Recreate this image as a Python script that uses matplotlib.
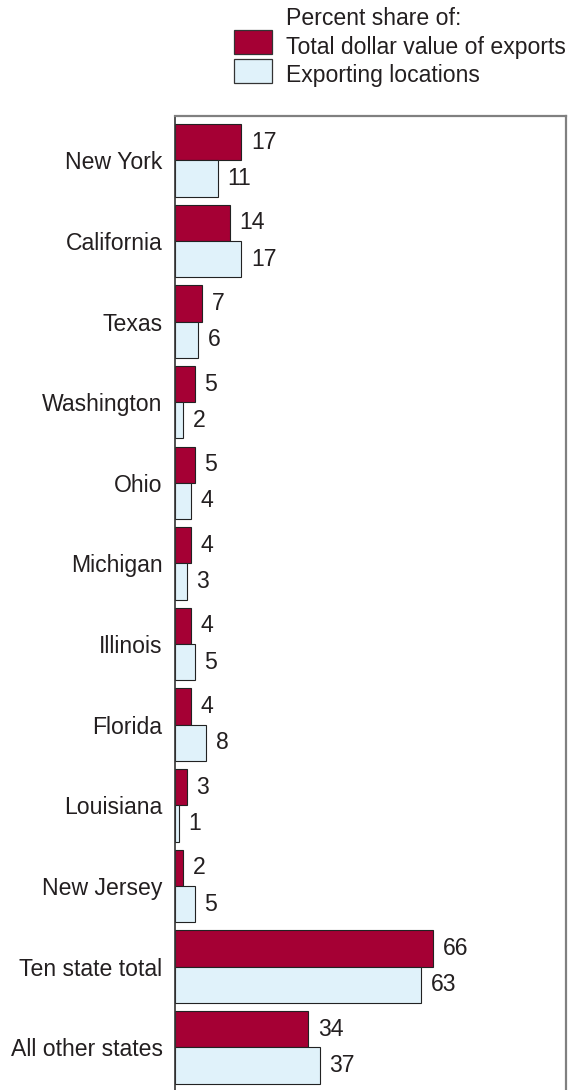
#!/usr/bin/env python3
"""
Horizontal grouped bars: share of export value vs exporting locations, top ten states.
"""
import matplotlib
matplotlib.use('Agg')
import matplotlib.pyplot as plt
from matplotlib.patches import Rectangle

states = ['New York', 'California', 'Texas', 'Washington', 'Ohio', 'Michigan',
          'Illinois', 'Florida', 'Louisiana', 'New Jersey', 'Ten state total',
          'All other states']
export_value = [17, 14, 7, 5, 5, 4, 4, 4, 3, 2, 66, 34]
export_locations = [11, 17, 6, 2, 4, 3, 5, 8, 1, 5, 63, 37]

RED = '#a50034'
BLUE = '#e0f2fa'
TEXT = '#231f20'
FS = 16.6

plt.rcParams['font.family'] = ['Liberation Sans', 'DejaVu Sans']
plt.rcParams['font.size'] = FS

W, H = 573, 1090
fig = plt.figure(figsize=(W / 100, H / 100), dpi=100)
ax = fig.add_axes([175 / W, 0, (566 - 175) / W, (H - 116) / H])

ypos = list(range(len(states)))
bh = 0.45
red = ax.barh([y - bh / 2 for y in ypos], export_value, height=bh,
              color=RED, edgecolor='#222222', linewidth=0.8)
blue = ax.barh([y + bh / 2 for y in ypos], export_locations, height=bh,
               color=BLUE, edgecolor='#222222', linewidth=0.8)
ax.bar_label(red, padding=7, color=TEXT, fontsize=FS)
ax.bar_label(blue, padding=7, color=TEXT, fontsize=FS)

ax.set_xlim(0, 100)
ax.set_ylim(11.53, -0.549)
ax.set_yticks(ypos)
ax.set_yticklabels(states, color=TEXT)
ax.tick_params(axis='y', length=0, pad=9)
ax.set_xticks([])

ax.spines['bottom'].set_visible(False)
ax.spines['left'].set_color('#333333')
ax.spines['left'].set_linewidth(1.2)
for side in ('top', 'right'):
    ax.spines[side].set_color('#808080')
    ax.spines[side].set_linewidth(1.6)

# legend, drawn in pixel positions of the figure
def px(x, y):
    return x / W, 1 - y / H

fig.text(*px(286, 25), 'Percent share of:', color=TEXT, va='baseline')
for (top, color, label, base) in [(30, RED, 'Total dollar value of exports', 54),
                                  (59, BLUE, 'Exporting locations', 82)]:
    fig.patches.append(Rectangle(px(234, top + 24), 38 / W, 24 / H,
                                 transform=fig.transFigure, facecolor=color,
                                 edgecolor='#333333', linewidth=0.9))
    fig.text(*px(286, base), label, color=TEXT, va='baseline')

fig.savefig('out.png', dpi=100)
